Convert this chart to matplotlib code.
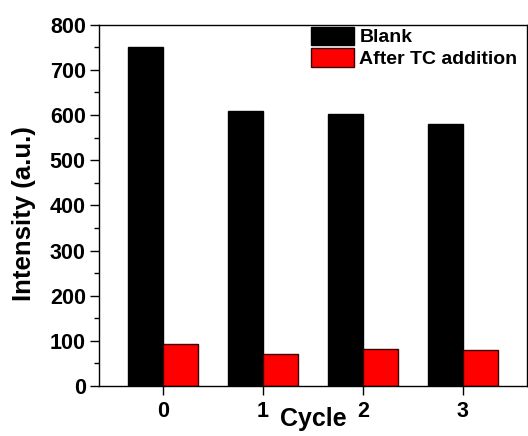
import numpy as np
import matplotlib
matplotlib.use("Agg")
import matplotlib.pyplot as plt
from matplotlib.ticker import MultipleLocator

# data
cycles = [0, 1, 2, 3]
blank = [750, 610, 602, 580]
after_tc = [92, 70, 83, 79]
series_labels = ["Blank", "After TC addition"]

plt.rcParams["font.family"] = ["Liberation Sans", "DejaVu Sans"]
plt.rcParams["font.weight"] = "bold"

fig = plt.figure(figsize=(5.28, 4.36), dpi=100)
ax = fig.add_axes([0.1875, 0.1147, 0.8105, 0.8286])

x = np.array(cycles)
w = 0.35
ax.bar(x - w / 2, blank, width=w, color="black", edgecolor="black", lw=1.0,
       label=series_labels[0])
ax.bar(x + w / 2, after_tc, width=w, color="#ff0000", edgecolor="#3a0000", lw=1.0,
       label=series_labels[1])

ax.set_xlim(-0.64, 3.64)
ax.set_ylim(0, 800)
ax.set_xticks(cycles)
ax.yaxis.set_major_locator(MultipleLocator(100))
ax.yaxis.set_minor_locator(MultipleLocator(50))
ax.tick_params(axis="both", which="major", length=6.5, width=1.0, pad=3,
               labelsize=15.5, direction="out")
ax.tick_params(axis="y", which="minor", length=3.6, width=1.0, direction="out")
ax.tick_params(axis="x", which="major", pad=4)
for s in ax.spines.values():
    s.set_linewidth(1.0)

ax.set_xlabel("Cycle", fontsize=18, fontweight="bold")
ax.xaxis.set_label_coords(0.5, -0.058)
ax.set_ylabel("Intensity (a.u.)", fontsize=18.5, fontweight="bold")
ax.yaxis.set_label_coords(-0.148, 0.476)

ax.legend(loc="upper left", bbox_to_anchor=(0.495, 0.995), frameon=False,
          fontsize=14, handlelength=2.2, handleheight=1.1, handletextpad=0.3,
          labelspacing=0.1, borderpad=0, borderaxespad=0)

fig.savefig("out.png", dpi=100)
